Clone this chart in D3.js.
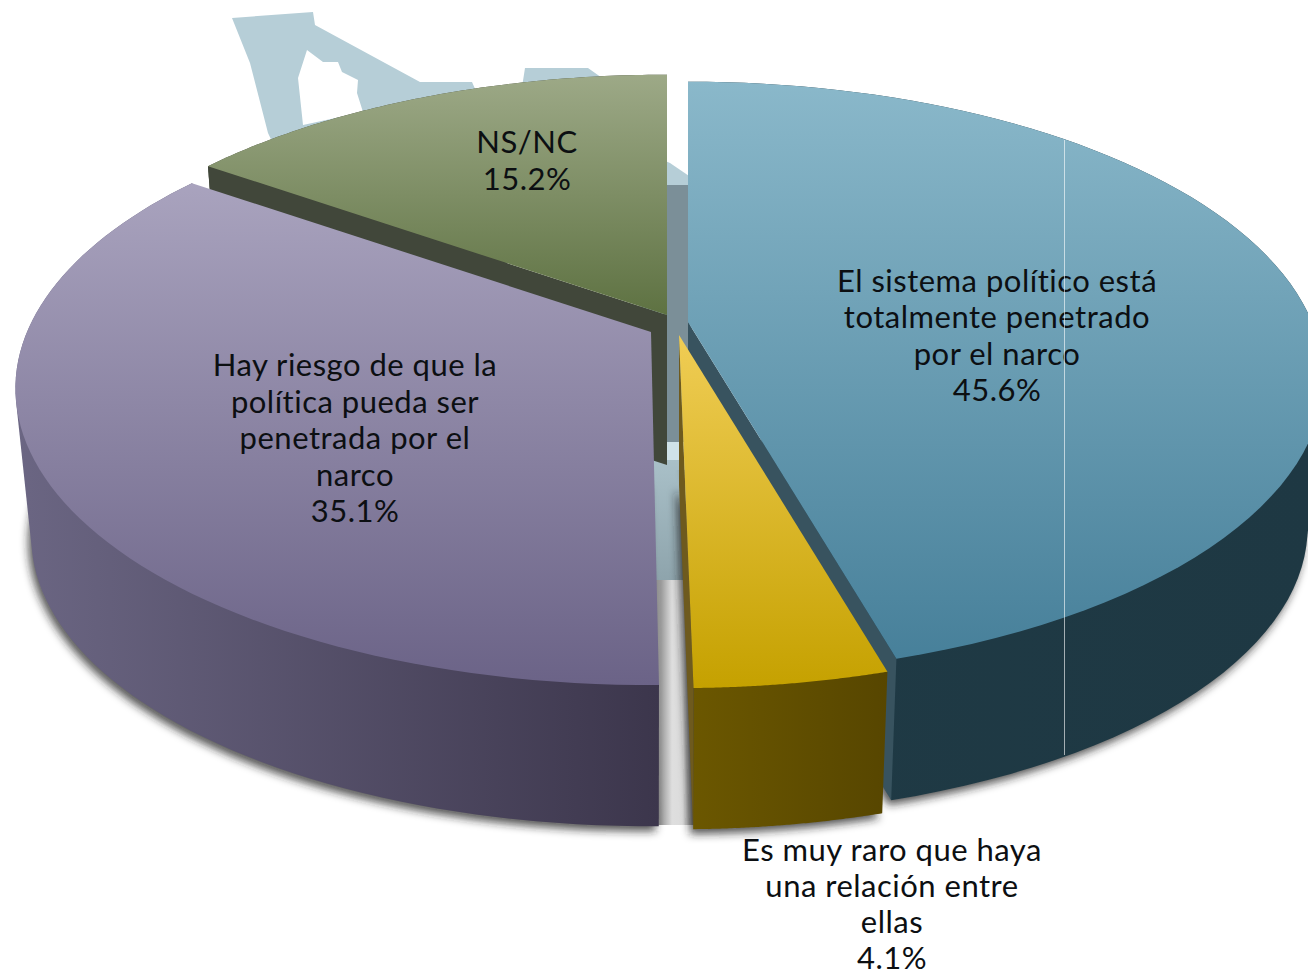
<!DOCTYPE html>
<html><head><meta charset="utf-8">
<script src="https://cdn.jsdelivr.net/npm/d3@7"></script>
<style>html,body{margin:0;padding:0;background:#fff}svg{display:block}text{font-family:Lato,"Open Sans",sans-serif;fill:#0c0f12}</style>
</head><body><div id="c"></div>
<script>
// ---- data ----
const categories = ["El sistema político está totalmente penetrado por el narco","Es muy raro que haya una relación entre ellas","Hay riesgo de que la política pueda ser penetrada por el narco","NS/NC"];
const values = [45.6, 4.1, 35.1, 15.2];
const labelLines = [
  ["El sistema político está","totalmente penetrado","por el narco","45.6%"],
  ["Es muy raro que haya","una relación entre","ellas","4.1%"],
  ["Hay riesgo de que la","política pueda ser","penetrada por el","narco","35.1%"],
  ["NS/NC","15.2%"]
];
// ---- layout and styling ----
const W=1308,H=976, rx=624, ry=286, persp=0.19, depth=150, floorScale=0.975;
const apex=[[688,322],[679,335],[651,332],[667,315]];
const startTrim=[0,0,0.0085,0];
const labelAt=[[997,292],[892,861],[355,376],[527,153]];
const labelGap=[36.4,36,36.5,37];
const fontSize=31, tracking=0.5;
const topCols=[["#8ab8ca","#47809a"],["#f0cd55","#c5a100"],["#a9a3be","#6b6387"],["#9da987","#5e7242"]];
const sideCols=[["#1f3a45","#1e3843"],["#6b5700","#574600"],["#6b6683","#3c364c"],["#41473a","#41473a"]];
const faceCols=["#38535f","#6e5a1e",null,"#41473a"];
const faceAtEnd=[true,true,false,false];
const drawOrder=[3,2,0,1];
// background map fragments
const mapA=[[232,18],[313,12],[315,25],[420,82],[472,82],[480,100],[520,100],[525,68],[588,68],[605,80],[620,180],[300,200],[268,133],[250,63]];
const mapHole=[[307,50],[323,62],[338,62],[342,72],[358,80],[357,93],[363,112],[303,125],[298,78]];
const mapB=[[640,150],[670,163],[692,178],[692,340],[640,340]];

const svg=d3.select("#c").append("svg").attr("width",W).attr("height",H).attr("viewBox",[0,0,W,H]);
const defs=svg.append("defs");
function grad(id,c,horizontal){
  const g=defs.append("linearGradient").attr("id",id).attr("x1",0).attr("y1",0).attr("x2",horizontal?1:0).attr("y2",horizontal?0:1);
  c.forEach((col,k)=>g.append("stop").attr("offset",k/(c.length-1)).attr("stop-color",col));
}
topCols.forEach((c,i)=>grad("t"+i,c,false));
sideCols.forEach((c,i)=>grad("s"+i,c,true));
grad("gapLow",["#a9c0c8","#8ea4ac"],false);
grad("gapShade",["#8d8d8d","#9a9a9a","#dedede","#dcdcdc","#8d8d8d"],true);
defs.append("filter").attr("id","blur").attr("filterUnits","userSpaceOnUse").attr("x",-50).attr("y",-50).attr("width",W+100).attr("height",H+100)
  .append("feGaussianBlur").attr("stdDeviation",4);
defs.append("clipPath").attr("id","lowerOnly").append("rect").attr("x",0).attr("y",470).attr("width",W).attr("height",H-470);

const arcs=d3.pie().sort(null).value(d=>d)(values);
const line=d3.line();
function proj(a,i,floor){
  const u=Math.sin(a),v=-Math.cos(a),w=1-persp*v,s=floor?floorScale:1;
  return [apex[i][0]+s*rx*u/w, apex[i][1]+s*ry*v/w+(floor?depth:0)];
}
const rim=(d,i,floor)=>{
  const a0=d.startAngle+startTrim[i];
  return d3.range(0,81).map(k=>proj(a0+(d.endAngle-a0)*k/80,i,floor));
};
const apexAt=(i,floor)=>[apex[i][0],apex[i][1]+(floor?depth:0)];

// background
const bg=svg.append("g");
bg.append("path").attr("fill-rule","evenodd").attr("fill","#b6ced7").attr("d",line(mapA)+"Z"+line(mapHole)+"Z");
bg.append("path").attr("fill","#b6ced7").attr("d",line(mapB)+"Z");
bg.append("rect").attr("x",664).attr("y",185).attr("width",26).attr("height",257).attr("fill","#7b8f98");
bg.append("rect").attr("x",650).attr("y",442).attr("width",35).attr("height",20).attr("fill","#cfe2e8");
bg.append("rect").attr("x",650).attr("y",460).attr("width",37).attr("height",120).attr("fill","url(#gapLow)");
bg.append("rect").attr("x",650).attr("y",580).attr("width",44).attr("height",245).attr("fill","url(#gapShade)");

// soft shadow under the walls
const shadow=svg.append("g").attr("clip-path","url(#lowerOnly)").append("g").attr("filter","url(#blur)").attr("transform","translate(-3,5)");
[2,0,1].forEach(i=>{
  const flo=rim(arcs[i],i,true);
  shadow.append("path").attr("fill","#222").attr("fill-opacity",0.75).attr("d",line([apexAt(i,true)].concat(flo))+"Z");
});

// slices, back to front
drawOrder.forEach(i=>{
  const d=arcs[i], g=svg.append("g");
  const top=rim(d,i,false), flo=rim(d,i,true);
  g.append("path").attr("fill",`url(#s${i})`).attr("d",line(d3.polygonHull(top.concat(flo)))+"Z");
  if(faceCols[i]){
    const k=faceAtEnd[i]?top.length-1:0;
    g.append("path").attr("fill",faceCols[i]).attr("d",line([apexAt(i,false),top[k],flo[k],apexAt(i,true)])+"Z");
  }
  g.append("path").attr("fill",`url(#t${i})`).attr("d",line([apexAt(i,false)].concat(top))+"Z");
});

// labels
const lab=svg.append("g").attr("text-anchor","middle").attr("font-size",fontSize).attr("letter-spacing",tracking);
labelLines.forEach((ls,i)=>{
  const t=lab.append("text").attr("aria-label",categories[i]);
  ls.forEach((s,k)=>t.append("tspan").attr("x",labelAt[i][0]).attr("y",labelAt[i][1]+k*labelGap[i]).text(s));
});
// thin pale seam across the blue slice
svg.append("rect").attr("x",1064).attr("y",140).attr("width",1).attr("height",615).attr("fill","#fff").attr("opacity",0.6);
</script></body></html>
